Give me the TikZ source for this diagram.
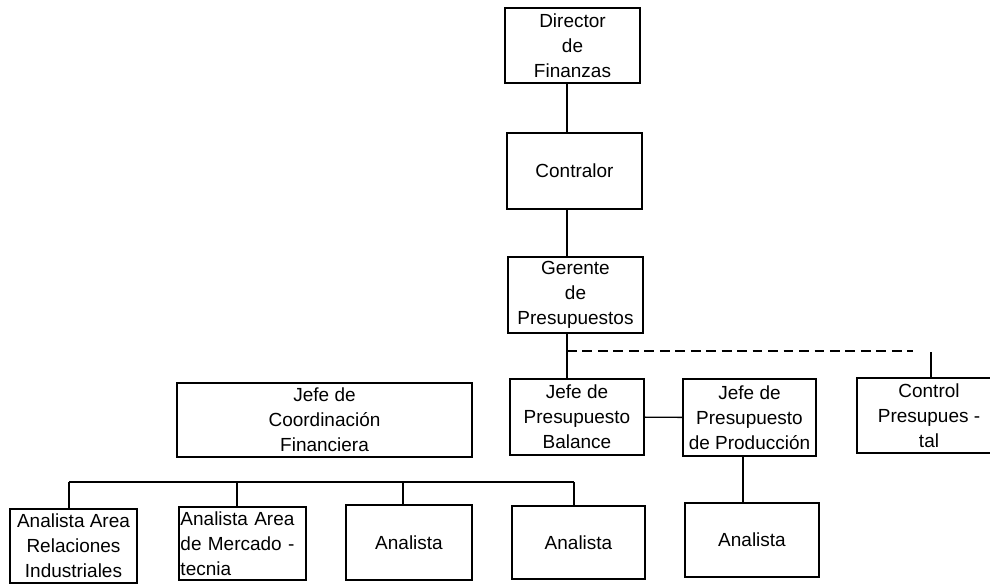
\documentclass[tikz,border=0pt]{standalone}
\usepackage{fontspec}
\setmainfont{Liberation Sans}

\tikzset{
  puesto/.style={draw, line width=1pt, align=center, inner sep=1pt,
    font=\fontsize{13.5}{17.8}\selectfont},
  enlace/.style={line width=1pt},
}

\begin{document}
\begin{tikzpicture}[x=0.025cm, y=-0.025cm]
  \clip (0,0) rectangle (990,584);
  \node[puesto, minimum width=3.375cm, minimum height=1.875cm] (dir) at (572.5,45.5) {Director\\de\\Finanzas};
  \node[puesto, minimum width=3.375cm, minimum height=1.9cm] (contr) at (574.5,171) {Contralor};
  \node[puesto, minimum width=3.375cm, minimum height=1.9cm] (ger) at (575.5,295) {Gerente\\de\\Presupuestos};
  \node[puesto, minimum width=3.35cm, minimum height=1.9cm] (bal) at (577,417) {Jefe de\\Presupuesto\\Balance};
  \node[puesto, minimum width=3.325cm, minimum height=1.925cm] (prod) at (749.5,417.5) {Jefe de\\Presupuesto\\de Producción};
  \node[puesto, minimum width=3.6cm, minimum height=1.875cm] (ctl) at (929,415.5) {Control\\Presupues -\\tal};
  \node[puesto, minimum width=7.375cm, minimum height=1.85cm] (coord) at (324.5,420) {Jefe de\\Coordinación\\Financiera};
  \node[puesto, minimum width=3.175cm, minimum height=1.85cm] (rel) at (73.5,546) {Analista Area\\Relaciones\\Industriales};
  \node[puesto, align=left, text width=3.1cm, minimum height=1.825cm] (mer) at (242.5,543.5) {Analista Area\\de Mercado -\\tecnia};
  \node[puesto, minimum width=3.15cm, minimum height=1.875cm] (an3) at (409,542.5) {Analista};
  \node[puesto, minimum width=3.325cm, minimum height=1.825cm] (an4) at (578.5,542.5) {Analista};
  \node[puesto, minimum width=3.35cm, minimum height=1.85cm] (an5) at (752,540) {Analista};

  \coordinate (eje) at (567,0);
  \coordinate (rama) at (567,351);
  \coordinate (fin) at (913,351);
  \coordinate (bajada) at (931,352);
  \coordinate (eje2) at (743,0);
  \coordinate (b1) at (69,482);
  \coordinate (b2) at (237,482);
  \coordinate (b3) at (403,482);
  \coordinate (b4) at (574,482);

  \draw[enlace] (dir.south -| eje) -- (contr.north -| eje);
  \draw[enlace] (contr.south -| eje) -- (ger.north -| eje);
  \draw[enlace] (ger.south -| eje) -- (bal.north -| eje);
  \draw[enlace, dash pattern=on 7pt off 4pt] (rama) -- (fin);
  \draw[enlace] (bajada) -- (bajada |- ctl.north);
  \draw[enlace] (bal) -- (prod);
  \draw[enlace] (prod.south -| eje2) -- (an5.north -| eje2);
  \draw[enlace] (b1) -- (b4);
  \foreach \c/\n in {b1/rel, b2/mer, b3/an3, b4/an4}
    \draw[enlace] (\c) -- (\c |- \n.north);
\end{tikzpicture}
\end{document}
